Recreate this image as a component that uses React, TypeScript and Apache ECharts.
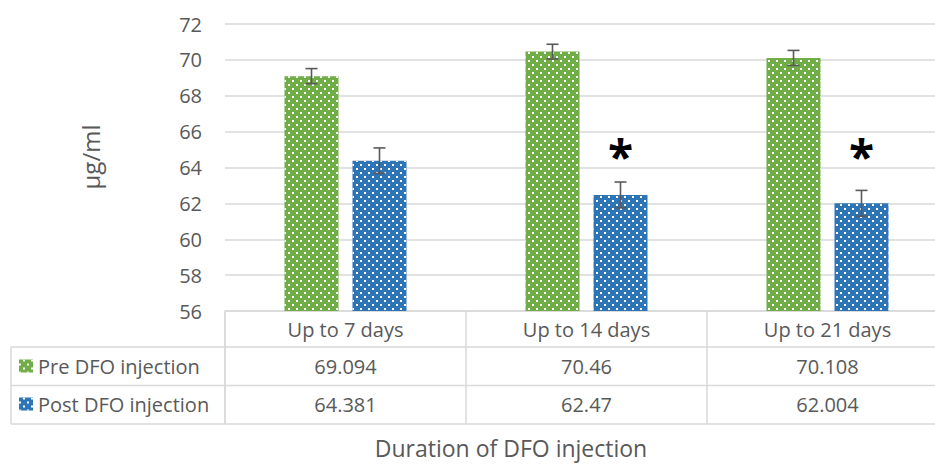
import React, { useEffect, useRef } from 'react';
import * as echarts from 'echarts';

const categories = ['Up to 7 days', 'Up to 14 days', 'Up to 21 days'];
const seriesNames = ['Pre DFO injection', 'Post DFO injection'];
const preValues = [69.094, 70.46, 70.108];
const postValues = [64.381, 62.47, 62.004];
const preErrors = [0.42, 0.41, 0.42];
const postErrors = [0.71, 0.72, 0.72];
const significant = [false, true, true];
const yMin = 56;
const yMax = 72;
const yStep = 2;
const yTitle = 'µg/ml';
const xTitle = 'Duration of DFO injection';

const FONT = "'Open Sans', sans-serif";
const TEXT = '#595959';
const LINE = '#d9d9d9';
const GREEN = '#70ad47';
const BLUE = '#2e75b6';
const BAR_W = 54;
const BAR_GAP = 14;
const OFFSET = (BAR_W + BAR_GAP) / 2;
const HEADER_H = 36;
const ROW_H = 38.5;

const decal = {
  symbol: 'rect',
  symbolSize: 1,
  color: '#ffffff',
  dashArrayX: [[2, 6], [0, 4, 2, 2]],
  dashArrayY: [2, 2],
  rotation: 0,
};

export default function App() {
  const ref = useRef<HTMLDivElement>(null);
  useEffect(() => {
    document.body.style.margin = '0';
    const chart = echarts.init(ref.current!, null, { renderer: 'svg' });
    const errSeries = (name: string, values: number[], errs: number[], sign: number) => ({
      type: 'custom',
      name,
      z: 5,
      data: values.map((v, i) => [i, v, errs[i]]),
      encode: { x: 0, y: 1 },
      renderItem: (params: any, api: any) => {
        const ci = api.value(0);
        const v = api.value(1);
        const e = api.value(2);
        const top = api.coord([ci, v + e]);
        const bot = api.coord([ci, v - e]);
        const x = top[0] + sign * OFFSET;
        const style = { stroke: '#595959', lineWidth: 1.6 };
        return {
          type: 'group',
          children: [
            { type: 'line', shape: { x1: x, y1: top[1], x2: x, y2: bot[1] }, style },
            { type: 'line', shape: { x1: x - 6, y1: top[1], x2: x + 6, y2: top[1] }, style },
            { type: 'line', shape: { x1: x - 6, y1: bot[1], x2: x + 6, y2: bot[1] }, style },
          ],
        };
      },
    });
    chart.setOption({
      animation: false,
      textStyle: { fontFamily: FONT },
      grid: { left: 225, width: 723, top: 24, bottom: 153, containLabel: false, outerBoundsMode: 'none' },
      legend: {
        data: seriesNames,
        orient: 'vertical',
        left: 19,
        top: 356,
        padding: 0,
        icon: 'rect',
        itemWidth: 14,
        itemHeight: 13,
        itemGap: 18,
        selectedMode: false,
        textStyle: { fontSize: 20, color: TEXT, fontFamily: FONT },
      },
      xAxis: {
        type: 'category',
        data: categories,
        axisLine: { lineStyle: { color: LINE, width: 1.5 } },
        axisTick: { show: true, length: HEADER_H + 2 * ROW_H, lineStyle: { color: LINE, width: 1.5 } },
        axisLabel: { fontSize: 20, color: TEXT, margin: 8, fontFamily: FONT },
      },
      yAxis: {
        type: 'value',
        min: yMin,
        max: yMax,
        interval: yStep,
        axisLine: { show: false },
        axisTick: { show: false },
        splitLine: { lineStyle: { color: LINE, width: 1.5 } },
        axisLabel: { fontSize: 20, color: TEXT, margin: 23, fontFamily: FONT },
      },
      series: [
        {
          type: 'bar',
          name: seriesNames[0],
          data: preValues,
          barWidth: BAR_W,
          barGap: (BAR_GAP / BAR_W) * 100 + '%',
          itemStyle: { color: GREEN, decal },
        },
        {
          type: 'bar',
          name: seriesNames[1],
          data: postValues,
          barWidth: BAR_W,
          itemStyle: { color: BLUE, decal },
        },
        errSeries('errPre', preValues, preErrors, -1),
        errSeries('errPost', postValues, postErrors, 1),
      ],
    });

    const y0 = chart.convertToPixel({ yAxisIndex: 0 }, yMin) as number;
    const c0 = chart.convertToPixel({ xAxisIndex: 0 }, 0) as number;
    const c1 = chart.convertToPixel({ xAxisIndex: 0 }, 1) as number;
    const band = c1 - c0;
    const tableLeft = 11;
    const right = 935;
    const row1 = y0 + HEADER_H;
    const row2 = row1 + ROW_H;
    const row3 = row2 + ROW_H;
    const lineStyle = { stroke: LINE, lineWidth: 1.5 };
    const graphics: any[] = [
      { type: 'line', shape: { x1: tableLeft, y1: row1, x2: right, y2: row1 }, style: lineStyle },
      { type: 'line', shape: { x1: tableLeft, y1: row2, x2: right, y2: row2 }, style: lineStyle },
      { type: 'line', shape: { x1: tableLeft, y1: row3, x2: right, y2: row3 }, style: lineStyle },
      { type: 'line', shape: { x1: tableLeft, y1: row1, x2: tableLeft, y2: row3 }, style: lineStyle },
      { type: 'line', shape: { x1: c0 - band / 2, y1: y0, x2: c0 - band / 2, y2: row3 }, style: lineStyle },
    ];
    categories.forEach((_, i) => {
      const cx = chart.convertToPixel({ xAxisIndex: 0 }, i) as number;
      graphics.push({
        type: 'text',
        x: cx,
        y: (row1 + row2) / 2,
        style: { text: String(preValues[i]), font: `20px ${FONT}`, fill: TEXT, align: 'center', verticalAlign: 'middle' },
      });
      graphics.push({
        type: 'text',
        x: cx,
        y: (row2 + row3) / 2,
        style: { text: String(postValues[i]), font: `20px ${FONT}`, fill: TEXT, align: 'center', verticalAlign: 'middle' },
      });
      if (significant[i]) {
        graphics.push({
          type: 'text',
          x: cx + OFFSET,
          y: 156,
          style: { text: '*', font: `bold 46px ${FONT}`, fill: '#000000', align: 'center', verticalAlign: 'middle' },
        });
      }
    });
    graphics.push({
      type: 'text',
      x: 90,
      y: 157,
      rotation: Math.PI / 2,
      style: { text: yTitle, font: `24px ${FONT}`, fill: TEXT, align: 'center', verticalAlign: 'middle' },
    });
    graphics.push({
      type: 'text',
      x: 511,
      y: 448,
      style: { text: xTitle, font: `23px ${FONT}`, fill: TEXT, align: 'center', verticalAlign: 'middle' },
    });
    chart.setOption({ graphic: graphics });
    return () => chart.dispose();
  }, []);
  return <div ref={ref} style={{ width: 935, height: 464 }} />;
}
